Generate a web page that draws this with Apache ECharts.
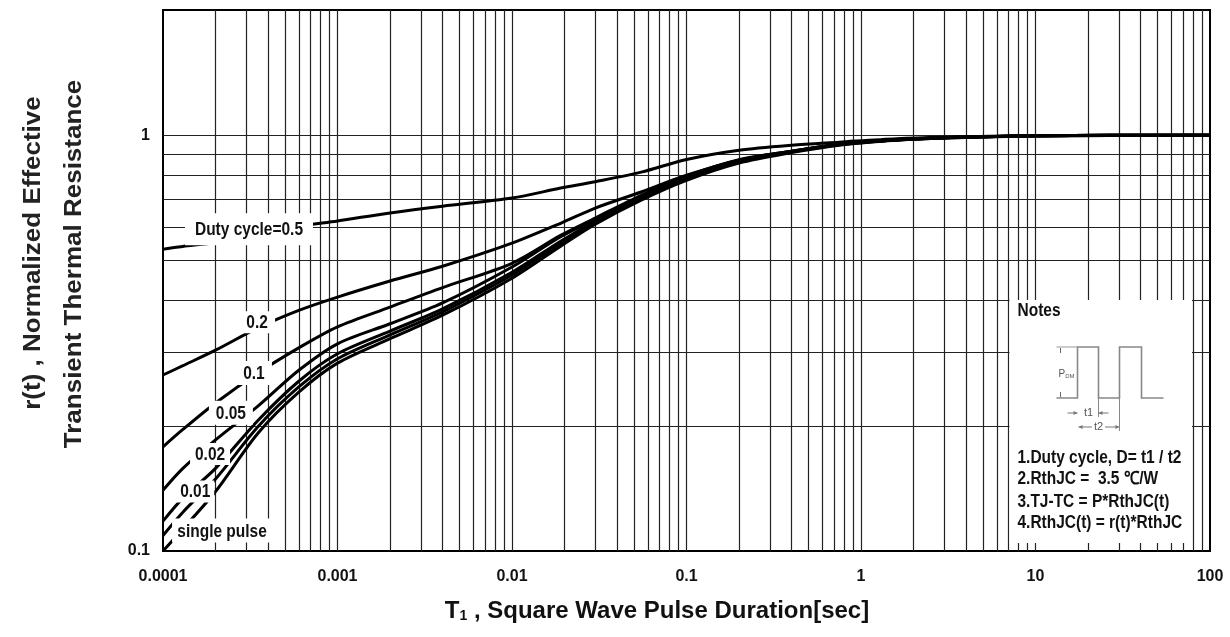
<!DOCTYPE html>
<html>
<head>
<meta charset="utf-8">
<title>Transient Thermal Resistance</title>
<script src="https://cdn.jsdelivr.net/npm/echarts@6/dist/echarts.min.js"></script>
<style>
  html, body { margin: 0; padding: 0; background: #fff; }
  #main { width: 1230px; height: 637px; }
</style>
</head>
<body>
<div id="main"></div>
<script>
// pulse duration T1 (sec), shared by every curve
var pulseTime = [0.0001, 0.00013, 0.0002, 0.00035, 0.0006, 0.001, 0.002, 0.004, 0.01, 0.019, 0.03, 0.055, 0.1, 0.2, 0.4, 0.75, 1.6, 3, 10, 100];

// r(t)
var duty05 = [0.532, 0.540, 0.552, 0.578, 0.604, 0.622, 0.650, 0.675, 0.706, 0.746, 0.773, 0.815, 0.874, 0.920, 0.946, 0.962, 0.981, 0.989, 0.997, 1.0];
var duty02 = [0.265, 0.279, 0.304, 0.344, 0.379, 0.408, 0.446, 0.484, 0.550, 0.614, 0.668, 0.730, 0.801, 0.871, 0.915, 0.951, 0.975, 0.986, 0.997, 1.0];
var duty01 = [0.178, 0.196, 0.227, 0.268, 0.308, 0.346, 0.386, 0.430, 0.492, 0.574, 0.632, 0.717, 0.797, 0.873, 0.915, 0.951, 0.975, 0.986, 0.997, 1.0];
var duty005 = [0.140, 0.158, 0.185, 0.223, 0.272, 0.315, 0.352, 0.395, 0.482, 0.570, 0.628, 0.712, 0.793, 0.870, 0.914, 0.950, 0.975, 0.986, 0.997, 1.0];
var duty002 = [0.118, 0.134, 0.158, 0.206, 0.256, 0.298, 0.338, 0.382, 0.468, 0.556, 0.621, 0.706, 0.789, 0.866, 0.913, 0.949, 0.974, 0.986, 0.997, 1.0];
var duty001 = [0.109, 0.124, 0.149, 0.199, 0.248, 0.290, 0.331, 0.376, 0.461, 0.549, 0.616, 0.702, 0.784, 0.862, 0.911, 0.948, 0.973, 0.985, 0.997, 1.0];
var singlePulse = [0.100, 0.113, 0.139, 0.192, 0.241, 0.283, 0.324, 0.369, 0.453, 0.541, 0.611, 0.698, 0.779, 0.857, 0.908, 0.946, 0.972, 0.984, 0.996, 1.0];

var curveNames = ['Duty cycle=0.5', '0.2', '0.1', '0.05', '0.02', '0.01', 'single pulse'];
// where each curve's name sits (data coords)
var curveLabelX = [0.000311, 0.000346, 0.000332, 0.000245, 0.000186, 0.000153, 0.000218];
var curveLabelY = [0.594, 0.355, 0.268, 0.215, 0.171, 0.139, 0.112];

var xTickValues = [0.0001, 0.001, 0.01, 0.1, 1, 10, 100];
var xTickLabels = ['0.0001', '0.001', '0.01', '0.1', '1', '10', '100'];
var yTickValues = [0.1, 1];
var yTickLabels = ['0.1', '1'];

var gridDecades = [0.0001, 0.001, 0.01, 0.1, 1, 10];
var gridSteps = [1, 2, 3, 4, 5, 6, 7, 8, 9];
var yGridValues = [0.2, 0.3, 0.4, 0.5, 0.6, 0.7, 0.8, 0.9, 1];

var noteLines = ['1.Duty cycle, D= t1 / t2', '2.RthJC =  3.5 \u2103/W', '3.TJ-TC = P*RthJC(t)', '4.RthJC(t) = r(t)*RthJC'];

var FONT = "'Liberation Sans', Arial, sans-serif";
var labelBoxes = [[128, 32], [36, 22], [36, 24], [44, 24], [40, 22], [38, 22], [100, 24]];
var SQUEEZE = 0.86;

function tickText(v, values, labels) {
    for (var i = 0; i < values.length; i++) {
        if (Math.abs(Math.log10(v) - Math.log10(values[i])) < 1e-6) return labels[i];
    }
    return '';
}

function curve(name, vals) {
    return {
        type: 'line',
        name: name,
        data: pulseTime.map(function (t, i) { return [t, vals[i]]; }),
        smooth: 0.3,
        symbol: 'none',
        z: 2,
        lineStyle: { color: '#000', width: 3 }
    };
}

function mid(o) {
    o.textAlign = 'center'; o.align = 'center';
    o.textVerticalAlign = 'middle'; o.verticalAlign = 'middle';
    return o;
}

function notesGroup() {
    var c = [
        { type: 'rect', shape: { x: 0, y: 0, width: 182.5, height: 243 }, style: { fill: '#fff' } },
        { type: 'text', x: 8, y: 11, scaleX: SQUEEZE, style: { text: 'Notes', font: 'bold 18px ' + FONT, fill: '#111', textVerticalAlign: 'middle', verticalAlign: 'middle' } },
        { type: 'polyline', shape: { points: [[47, 98], [68, 98], [68, 47], [89, 47], [89, 98], [110, 98], [110, 47], [132, 47], [132, 98], [154, 98]] },
          style: { stroke: '#888', lineWidth: 1.6, fill: null } },
        { type: 'line', shape: { x1: 47, y1: 47, x2: 68, y2: 47 }, style: { stroke: '#999', lineWidth: 1 } },
        { type: 'line', shape: { x1: 51, y1: 48, x2: 51, y2: 53 }, style: { stroke: '#666', lineWidth: 1 } },
        { type: 'line', shape: { x1: 51, y1: 92, x2: 51, y2: 97 }, style: { stroke: '#666', lineWidth: 1 } },
        { type: 'text', x: 49, y: 74, style: { text: '{p|P}{s|DM}', textVerticalAlign: 'middle', verticalAlign: 'middle',
          rich: { p: { font: '10px ' + FONT, fill: '#555' }, s: { font: '6px ' + FONT, fill: '#555', verticalAlign: 'bottom' } } } },
        { type: 'line', shape: { x1: 89, y1: 98, x2: 89, y2: 117 }, style: { stroke: '#888', lineWidth: 1 } },
        { type: 'line', shape: { x1: 110, y1: 98, x2: 110, y2: 131 }, style: { stroke: '#888', lineWidth: 1 } },
        { type: 'line', shape: { x1: 58, y1: 113, x2: 68, y2: 113 }, style: { stroke: '#777', lineWidth: 1 } },
        { type: 'polygon', shape: { points: [[68, 113], [64, 111], [64, 115]] }, style: { fill: '#777' } },
        { type: 'line', shape: { x1: 89, y1: 113, x2: 99, y2: 113 }, style: { stroke: '#777', lineWidth: 1 } },
        { type: 'polygon', shape: { points: [[89, 113], [93, 111], [93, 115]] }, style: { fill: '#777' } },
        { type: 'text', x: 79, y: 113, style: mid({ text: 't1', font: '11px ' + FONT, fill: '#555' }) },
        { type: 'line', shape: { x1: 69, y1: 127, x2: 109, y2: 127 }, style: { stroke: '#777', lineWidth: 1 } },
        { type: 'polygon', shape: { points: [[69, 127], [73, 125], [73, 129]] }, style: { fill: '#777' } },
        { type: 'polygon', shape: { points: [[110, 127], [106, 125], [106, 129]] }, style: { fill: '#777' } },
        { type: 'text', x: 89, y: 127, style: mid({ text: 't2', font: '11px ' + FONT, fill: '#555', backgroundColor: '#fff', padding: [0, 2] }) }
    ];
    noteLines.forEach(function (t, i) {
        c.push({ type: 'text', x: 8, y: [158, 179, 202, 223][i], scaleX: SQUEEZE,
            style: { text: t, font: 'bold 18px ' + FONT, fill: '#111', textVerticalAlign: 'middle', verticalAlign: 'middle' } });
    });
    c.forEach(function (e) { e.z = 100; });
    return { type: 'group', x: 1009.5, y: 300, z: 100, children: c };
}

function initChart(dom) {
    var chart = echarts.init(dom, null, { renderer: 'canvas' });

    // 1-2-...-9 grid per decade, drawn as a lines series on the log axes
    var gridData = [];
    gridDecades.forEach(function (d) {
        gridSteps.forEach(function (m) {
            if (d === 0.0001 && m === 1) return;
            gridData.push({ coords: [[d * m, 0.1], [d * m, 2]] });
        });
    });
    yGridValues.forEach(function (v) {
        gridData.push({ coords: [[0.0001, v], [100, v]] });
    });

    var option = {
        backgroundColor: '#ffffff',
        animation: false,
        grid: { left: 163, right: 20, top: 10, bottom: 86, show: true, borderColor: '#000', borderWidth: 2 },
        xAxis: {
            type: 'log', logBase: 10, min: 0.0001, max: 100,
            axisLine: { show: false }, axisTick: { show: false }, splitLine: { show: false },
            axisLabel: {
                margin: 18, color: '#111', fontFamily: FONT, fontWeight: 'bold', fontSize: 16,
                formatter: function (v) { return tickText(v, xTickValues, xTickLabels); }
            }
        },
        yAxis: {
            type: 'log', logBase: 10, min: 0.1, max: 2,
            axisLine: { show: false }, axisTick: { show: false }, splitLine: { show: false },
            axisLabel: {
                margin: 13, color: '#111', fontFamily: FONT, fontWeight: 'bold', fontSize: 16,
                formatter: function (v) { return tickText(v, yTickValues, yTickLabels); }
            }
        },
        series: [
            {
                type: 'lines', coordinateSystem: 'cartesian2d', silent: true, z: 1,
                lineStyle: { color: '#222', width: 1.2, opacity: 1 },
                data: gridData
            },
            curve('0.5', duty05),
            curve('0.2', duty02),
            curve('0.1', duty01),
            curve('0.05', duty005),
            curve('0.02', duty002),
            curve('0.01', duty001),
            curve('single pulse', singlePulse)
        ]
    };
    chart.setOption(option);

    // titles, notes and the curve names (placed through the axes)
    var graphic = [
        { type: 'text', x: 34, y: 253, rotation: Math.PI / 2, scaleY: 0.9, z: 100,
          style: mid({ text: 'r(t) , Normalized Effective', font: 'bold 26px ' + FONT, fill: '#222' }) },
        { type: 'text', x: 75, y: 264, rotation: Math.PI / 2, scaleY: 0.9, z: 100,
          style: mid({ text: 'Transient Thermal Resistance', font: 'bold 26px ' + FONT, fill: '#222' }) },
        { type: 'text', x: 657, y: 611, z: 100,
          style: mid({ text: '{a|T}{b|1}{a| , Square Wave Pulse Duration[sec]}',
                       rich: { a: { font: 'bold 24px ' + FONT, fill: '#111' },
                               b: { font: 'bold 14px ' + FONT, fill: '#111', verticalAlign: 'bottom' } } }) },
        notesGroup()
    ];
    curveNames.forEach(function (n, i) {
        var p = chart.convertToPixel({ gridIndex: 0 }, [curveLabelX[i], curveLabelY[i]]);
        var w = labelBoxes[i][0], h = labelBoxes[i][1];
        graphic.push({ type: 'rect', z: 50, shape: { x: p[0] - w / 2, y: p[1] - h / 2, width: w, height: h }, style: { fill: '#fff' } });
        graphic.push({ type: 'text', z: 51, x: p[0], y: p[1] + 1, scaleX: SQUEEZE,
            style: mid({ text: n, font: 'bold 18px ' + FONT, fill: '#111' }) });
    });
    chart.setOption({ graphic: graphic });
    return chart;
}

initChart(document.getElementById('main'));
</script>
</body>
</html>
